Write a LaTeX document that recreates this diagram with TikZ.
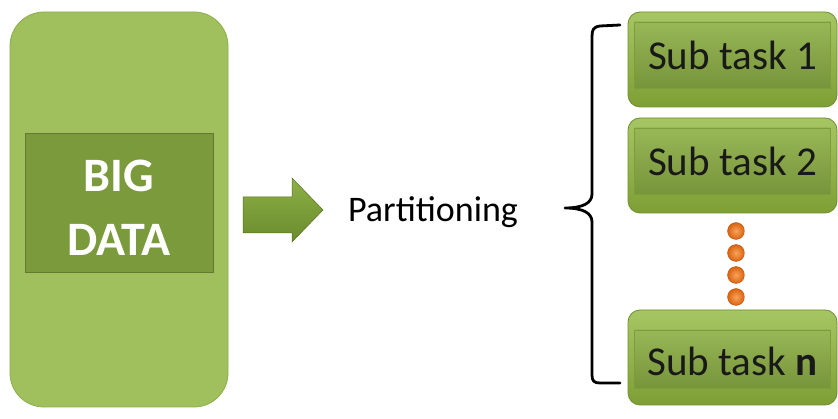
\documentclass[tikz,border=0pt]{standalone}
\usepackage{fontspec}
\setmainfont{Carlito}
\usetikzlibrary{shadows}
\definecolor{bigfill}{HTML}{9FC05C}
\definecolor{bigedge}{HTML}{8EAE4C}
\definecolor{innerfill}{HTML}{7A9A3C}
\definecolor{subtop}{HTML}{A6C663}
\definecolor{subbot}{HTML}{7E9F34}
\definecolor{subedge}{HTML}{6F8E2E}
\definecolor{bandfill}{HTML}{8CAF44}
\definecolor{arrtop}{HTML}{8DB048}
\definecolor{arrbot}{HTML}{6A8B2B}
\definecolor{dotlight}{HTML}{F9A35C}
\definecolor{dotdark}{HTML}{D9620E}
\tikzset{
  bigbox/.style={draw=bigedge, line width=0.8pt, fill=bigfill, rounded corners=34pt,
    minimum width=218pt, minimum height=395pt, inner sep=0pt},
  bigband/.style={draw=innerfill!80!black, line width=0.6pt, fill=innerfill,
    minimum width=188pt, minimum height=139pt, inner sep=0pt},
  subbox/.style={draw=subedge, line width=0.8pt, top color=subtop, bottom color=subbot,
    rounded corners=12pt, minimum width=209pt, minimum height=95pt, inner sep=0pt},
  subband/.style={draw=subedge!70!bigfill, line width=0.5pt, top color=bandfill!90!white, bottom color=bandfill!85!black,
    minimum width=196pt, inner sep=0pt},
  subtext/.style={font=\fontsize{41}{41}\selectfont, text=black!90, inner sep=0pt},
  orangedot/.style={circle, minimum size=17pt, inner sep=0pt, draw=dotdark!80!black, line width=0.3pt,
    inner color=dotlight, outer color=dotdark},
  bracestyle/.style={line width=2.8pt, black, line cap=round, line join=round},
}
\begin{document}
\begin{tikzpicture}[x=1pt,y=-1pt]
\useasboundingbox (0,0) rectangle (838,419);
\fill[white] (0,0) rectangle (838,419);
% Big data block
\node[bigbox] (big) at (119,209.5) {};
\node[bigband] (band) at (119,202.5) {};
\node[font=\fontsize{48}{64}\selectfont\bfseries, text=white, align=center, inner sep=0pt] (bigtext) at (119,208) {BIG\\DATA};
% Arrow
\coordinate (as) at (243,210);
\coordinate (at) at (323,210);
\path[top color=arrtop, bottom color=arrbot, draw=arrbot!80!black, line width=0.5pt]
  (243,197) -- (292,197) -- (292,178) -- (at) -- (292,242) -- (292,233) -- (243,233) -- cycle;
% Partitioning
\node[font=\fontsize{36}{36}\selectfont, inner sep=0pt] (part) at (433,212) {Partitioning};
% Brace
\coordinate (btop) at (620,25);
\coordinate (bbot) at (620,383);
\coordinate (bmid) at (565,208);
\draw[bracestyle] (btop) -- (600,26) .. controls (593,27) and (592,30) .. (592,37) -- (592,194)
  .. controls (592,203) and (583,208) .. (bmid) .. controls (583,208) and (592,213) .. (592,222)
  -- (592,375) .. controls (592,381) and (594,383) .. (600,383) -- (bbot);
% Sub tasks
\node[subbox] (s1) at (732.5,59.5) {};
\node[subband, minimum height=66pt] (s1b) at (732.5,55) {};
\node[subtext] (s1t) at (732.5,55) {Sub task 1};
\node[subbox] (s2) at (732.5,165.5) {};
\node[subband, minimum height=66pt] (s2b) at (732.5,161) {};
\node[subtext] (s2t) at (732.5,161) {Sub task 2};
\node[subbox] (sn) at (732.5,357.5) {};
\node[subband, minimum height=58pt] (snb) at (732.5,359) {};
\node[subtext] (snt) at (732.5,361) {Sub task \textbf{n}};
% Dots
\node[orangedot] (d1) at (736,231) {};
\node[orangedot] (d2) at (736,253) {};
\node[orangedot] (d3) at (736,275) {};
\node[orangedot] (d4) at (736,297) {};
\end{tikzpicture}
\end{document}
